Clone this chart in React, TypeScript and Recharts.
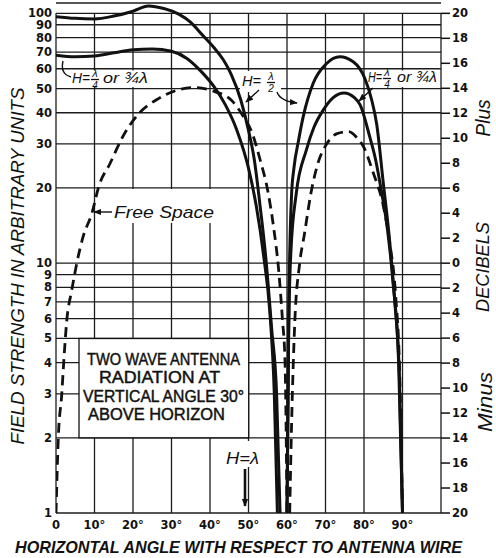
import React from 'react';
import { LineChart, Line, XAxis, YAxis, CartesianGrid, Customized } from 'recharts';

// ---------- axes ----------
const angleTicks = [0, 10, 20, 30, 40, 50, 60, 70, 80, 90, 100];
const fieldTicks = [1, 2, 3, 4, 5, 6, 7, 8, 9, 10, 20, 30, 40, 50, 60, 70, 80, 90, 100];
const decibelTicks = [20, 18, 16, 14, 12, 10, 8, 6, 4, 2, 0, -2, -4, -6, -8, -10, -12, -14, -16, -18, -20];

// ---------- H = lambda/2 ----------
const halfWaveLobe1Angles = [0, 5, 10, 15, 20, 24, 28, 32, 35, 38, 41, 43.5, 45.5, 48, 50, 51.5, 53, 54.5, 56, 57.3, 58.2];
const halfWaveLobe1Field = [97, 95.5, 95, 97.5, 102, 107, 104.5, 99, 92, 82, 73, 65, 57, 45, 34, 26, 17, 10.5, 5.5, 3, 1];
const halfWaveLobe2Angles = [60, 60.5, 61.2, 61.8, 63, 64.2, 66.8, 70.3, 73.7, 77.2, 80.2, 82, 83.3, 85, 86.5, 88, 89.2, 90];
const halfWaveLobe2Field = [1, 7, 19, 24, 31, 38.5, 52.5, 63, 67, 64, 55, 45, 36, 21, 13, 7, 3.5, 1];

// ---------- H = lambda/4 or 3/4 lambda ----------
const quarterWaveLobe1Angles = [0, 5, 10, 15, 20, 25, 30, 34, 37.5, 41, 44, 47, 50, 52, 54, 55.5, 56.7, 57.5];
const quarterWaveLobe1Field = [68, 67, 67.5, 69.5, 71.5, 72, 70.5, 66, 59, 51, 43, 34, 24, 17, 10.5, 6.5, 3, 1];
const quarterWaveLobe2Angles = [60, 60.4, 61, 62.4, 65, 67, 69.4, 72, 74.8, 77.5, 79, 81.5, 83, 84.5, 86, 87.5, 89, 90];
const quarterWaveLobe2Field = [1, 5, 11, 19, 28.3, 35, 41, 46, 48, 46, 43, 32, 26, 19.5, 14, 8.5, 4, 1];

// ---------- Free space ----------
const freeSpaceLobe1Angles = [0, 0.6, 1.5, 2, 2.8, 4.1, 5.4, 7, 9.3, 11.2, 14, 17.3, 21.7, 26, 31, 36, 40.5, 45.5, 48.5, 51, 53, 55, 56.5, 57.8, 58.8, 59.5, 60];
const freeSpaceLobe1Field = [1, 2, 3, 4, 5.9, 7.8, 10, 12.7, 15.8, 20.5, 25, 32, 40, 45, 49, 50.5, 49, 45, 39, 33, 26, 19.5, 14, 9.5, 6, 4, 1];
const freeSpaceLobe2Angles = [60.7, 61.2, 62, 63.3, 64.5, 66.2, 68, 70.3, 73, 76, 78, 80, 82.4, 85, 86.7, 88.2, 89.3, 90];
const freeSpaceLobe2Field = [1, 2.3, 5.7, 10, 13, 19, 25, 30, 33, 33.6, 32, 29, 23, 17, 12, 7.5, 3.5, 1];

// ---------- notes ----------
const boxLines = ['TWO WAVE ANTENNA', 'RADIATION AT', 'VERTICAL ANGLE 30°', 'ABOVE HORIZON'];

const toData = (angles: number[], field: number[]) => angles.map((angle, i) => ({ angle, field: field[i] }));

const ink = '#111';
const W = 496;
const H = 558;

const Frac = ({ x, y, num, den }: { x: number; y: number; num: string; den: string }) => (
  <g fontFamily="Liberation Sans" fontStyle="italic" fill={ink}>
    <text x={x} y={y - 6} textAnchor="middle" fontSize={11}>{num}</text>
    <line x1={x - 4} x2={x + 4} y1={y - 3.5} y2={y - 3.5} stroke={ink} strokeWidth={1.3} />
    <text x={x} y={y + 6} textAnchor="middle" fontSize={10}>{den}</text>
  </g>
);

const boxLayout = [
  { x: 87, y: 365, len: 153 },
  { x: 99, y: 383, len: 121 },
  { x: 83, y: 402, len: 161 },
  { x: 88, y: 420, len: 137 },
];

const Annotations = () => (
  <g>
    <defs>
      <marker id="ah" viewBox="0 0 10 10" refX="9" refY="5" markerWidth="8" markerHeight="8" orient="auto" markerUnits="userSpaceOnUse">
        <path d="M0,1 L10,5 L0,9 z" fill={ink} />
      </marker>
    </defs>
    {/* white label backgrounds */}
    <rect x={68} y={70.5} width={99} height={16.5} fill="#fff" />
    <rect x={369} y={70.5} width={70} height={16.5} fill="#fff" />
    <rect x={240} y={71} width={41} height={21} fill="#fff" />
    <rect x={101} y={189} width={115} height={34} fill="#fff" />
    <rect x={223} y={441} width={40} height={26} fill="#fff" />

    {/* note box */}
    <rect x={79} y={338.5} width={169.7} height={99.3} fill="#fff" stroke={ink} strokeWidth={1.3} />
    <g fontFamily="Liberation Sans" fontSize={16} fill={ink} stroke={ink} strokeWidth={0.45}>
      {boxLines.map((t, i) => (
        <text key={t} x={boxLayout[i].x} y={boxLayout[i].y} textLength={boxLayout[i].len} lengthAdjust="spacingAndGlyphs">{t}</text>
      ))}
    </g>

    <g fontFamily="Liberation Sans" fontStyle="italic" fill={ink}>
      {/* left H = lambda/4 label */}
      <text x={72} y={83} fontSize={15} textLength={18} lengthAdjust="spacingAndGlyphs">H=</text>
      <Frac x={95} y={83} num="λ" den="4" />
      <text x={103} y={83} fontSize={15} textLength={45} lengthAdjust="spacingAndGlyphs">or ¾λ</text>
      <path d="M71,77 Q60,74 63,61" fill="none" stroke={ink} strokeWidth={1.4} />

      {/* H = lambda/2 label */}
      <text x={242} y={86} fontSize={15} textLength={19} lengthAdjust="spacingAndGlyphs">H=</text>
      <Frac x={271} y={86} num="λ" den="2" />
      <path d="M259,90 L246,102" fill="none" stroke={ink} strokeWidth={1.4} markerEnd="url(#ah)" />
      <path d="M277,92 Q280,101 297,103" fill="none" stroke={ink} strokeWidth={1.4} markerEnd="url(#ah)" />

      {/* right H = lambda/4 label */}
      <text x={368} y={82} fontSize={15} textLength={14} lengthAdjust="spacingAndGlyphs">H=</text>
      <Frac x={387} y={82} num="λ" den="4" />
      <text x={397} y={82} fontSize={15} textLength={40} lengthAdjust="spacingAndGlyphs">or ¾λ</text>
      <path d="M373,88 L359,101" fill="none" stroke={ink} strokeWidth={1.4} markerEnd="url(#ah)" />

      {/* Free space */}
      <text x={114} y={218} fontSize={17} textLength={100} lengthAdjust="spacingAndGlyphs">Free Space</text>
      <path d="M112,212 L94,212" fill="none" stroke={ink} strokeWidth={1.4} markerEnd="url(#ah)" />

      {/* H = lambda with arrow */}
      <text x={226} y={464} fontSize={17} textLength={33} lengthAdjust="spacingAndGlyphs">H=λ</text>
      <path d="M245,469 L245,506" fill="none" stroke={ink} strokeWidth={2.6} markerEnd="url(#ah)" />
    </g>

    {/* axis titles */}
    <g fontFamily="Liberation Sans" fontStyle="italic" fill={ink}>
      <text transform="translate(17,266) rotate(-90)" textAnchor="middle" dominantBaseline="central" fontSize={19} textLength={357} lengthAdjust="spacingAndGlyphs">FIELD STRENGTH IN ARBITRARY UNITS</text>
      <text x={15} y={553} fontSize={17} fontWeight="bold" textLength={447} lengthAdjust="spacingAndGlyphs">HORIZONTAL ANGLE WITH RESPECT TO ANTENNA WIRE</text>
      <text transform="translate(483,118) rotate(-90)" textAnchor="middle" dominantBaseline="central" fontSize={20} textLength={37} lengthAdjust="spacingAndGlyphs">Plus</text>
      <text transform="translate(483,267) rotate(-90)" textAnchor="middle" dominantBaseline="central" fontSize={18} textLength={90} lengthAdjust="spacingAndGlyphs">DECIBELS</text>
      <text transform="translate(485,402) rotate(-90)" textAnchor="middle" dominantBaseline="central" fontSize={20} textLength={60} lengthAdjust="spacingAndGlyphs">Minus</text>
    </g>
  </g>
);

const tickFont = { fontFamily: 'DejaVu Sans', fontWeight: 'bold', fontSize: 11.5, fill: ink };

const solid = { stroke: ink, strokeWidth: 3, dot: false, isAnimationActive: false, type: 'monotone' as const, yAxisId: 'left', dataKey: 'field' };

export default function App() {
  return (
    <div style={{ position: 'absolute', left: 0, top: 0, width: W, height: H, background: '#fff' }}>
      <LineChart width={W} height={H} margin={{ top: 3, right: 0, bottom: 0, left: 0 }}>
        <CartesianGrid yAxisId="left" y={13.3} height={499.7} stroke="#1c1c1c" strokeWidth={1.3} />
        <XAxis
          dataKey="angle"
          type="number"
          domain={[0, 100]}
          ticks={angleTicks}
          allowDataOverflow
          height={45}
          axisLine={false}
          tickLine={false}
          tickSize={2}
          tickMargin={6}
          interval={0}
          tick={tickFont}
          tickFormatter={(v: number) => (v === 0 ? '0' : v === 100 ? '' : `${v}°`)}
        />
        <YAxis
          yAxisId="left"
          scale="log"
          domain={[1, 110]}
          allowDataOverflow
          ticks={fieldTicks}
          interval={0}
          width={56}
          axisLine={false}
          tickLine={false}
          tickSize={2}
          tickMargin={2}
          tick={tickFont}
        />
        <YAxis
          yAxisId="right"
          orientation="right"
          scale="log"
          domain={[1, 110]}
          allowDataOverflow
          ticks={decibelTicks.map((d) => Math.pow(10, 1 + d / 20))}
          interval={0}
          width={55}
          axisLine={false}
          tickLine={{ stroke: ink, strokeWidth: 1.5 }}
          tickSize={9}
          tickMargin={2}
          tick={tickFont}
          tickFormatter={(v: number) => String(Math.abs(Math.round(20 * Math.log10(v) - 20)))}
        />
        <Customized component={Annotations} />
        <Line {...solid} data={toData(halfWaveLobe1Angles, halfWaveLobe1Field)} />
        <Line {...solid} data={toData(halfWaveLobe2Angles, halfWaveLobe2Field)} />
        <Line {...solid} data={toData(quarterWaveLobe1Angles, quarterWaveLobe1Field)} />
        <Line {...solid} data={toData(quarterWaveLobe2Angles, quarterWaveLobe2Field)} />
        <Line {...solid} strokeWidth={2.8} strokeDasharray="10 6" data={toData(freeSpaceLobe1Angles, freeSpaceLobe1Field)} />
        <Line {...solid} strokeWidth={2.8} strokeDasharray="10 6" data={toData(freeSpaceLobe2Angles, freeSpaceLobe2Field)} />
      </LineChart>
    </div>
  );
}
